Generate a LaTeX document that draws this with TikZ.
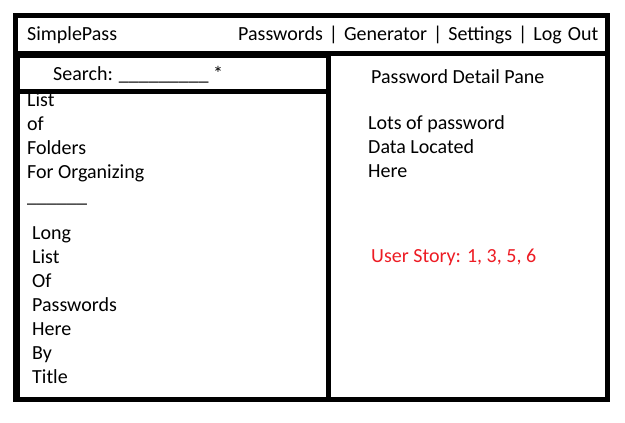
\documentclass[tikz,border=0pt]{standalone}
\usepackage{fontspec}
\setmainfont{Carlito}
\definecolor{storyred}{RGB}{237,28,36}
\tikzstyle{pane} = [draw, line width=5pt]
\tikzstyle{txt} = [anchor=base west, inner sep=0pt, align=left, font=\fontsize{20}{24}\selectfont]
\tikzstyle{story} = [txt, text=storyred]

\begin{document}
\begin{tikzpicture}[x=1pt, y=-1pt]
    \useasboundingbox (0,0) rectangle (625,423);

    % Header bar
    \node (brand) [txt] at (27,40) {SimplePass};
    \node (menu) [txt] at (238,40) {\spaceskip=6pt Passwords | Generator | Settings | Log Out};

    % Search box
    \node (search) [txt] at (53,81) {Search: \_\_\_\_\_\_\_\_\_ *};

    % Folder list and password list (anchored on last line)
    \node (folders) [txt] at (27,202) {List\\of\\Folders\\For Organizing\\\_\_\_\_\_\_};
    \node (entries) [txt] at (32,383) {Long\\List\\Of\\Passwords\\Here\\By\\Title};

    % Detail pane
    \node (detailtitle) [txt] at (371,83) {Password Detail Pane};
    \node (details) [txt] at (368,177) {Lots of password\\Data Located\\Here};
    \node (stories) [story] at (371,262) {User Story: 1, 3, 5, 6};

    % Frames
    \draw [pane] (15.5,15.5) rectangle (607.5,399.5);
    \draw [pane] (15.5,53.5) -- (607.5,53.5);
    \draw [pane] (17.5,55) rectangle (328.5,399.5);
    \draw [pane] (17.5,91.5) -- (328.5,91.5);
\end{tikzpicture}
\end{document}
